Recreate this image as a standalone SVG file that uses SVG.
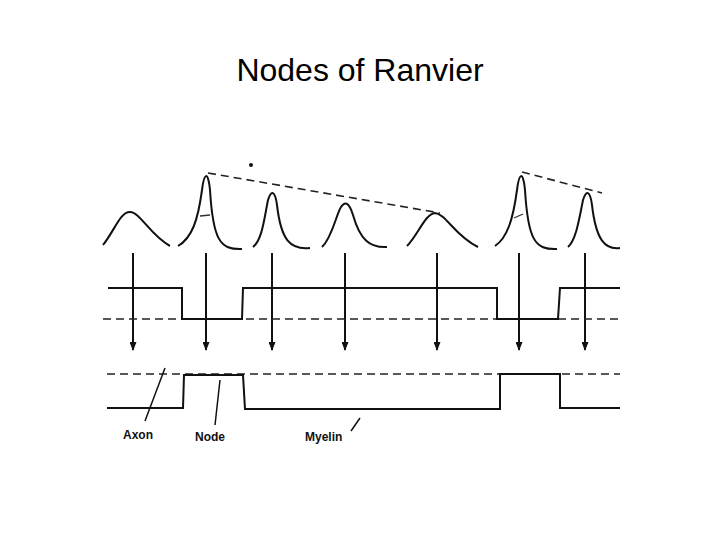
<svg xmlns="http://www.w3.org/2000/svg" width="720" height="540" viewBox="0 0 720 540">
<style>
.w{fill:none;stroke:#111;stroke-width:2}
.d{fill:none;stroke:#222;stroke-width:1.6;stroke-dasharray:8 5}
.a{stroke:#111;stroke-width:2;marker-end:url(#ah)}
.l{font-family:"Liberation Sans",Arial,sans-serif;font-weight:bold;font-size:12px;fill:#111}
</style>
<defs><marker id="ah" markerWidth="9" markerHeight="7" refX="8" refY="3.5" orient="auto" markerUnits="userSpaceOnUse"><path d="M0,0 L9,3.5 L0,7Z" fill="#111"/></marker></defs>
<rect width="720" height="540" fill="#fff"/>
<text x="360" y="81" text-anchor="middle" font-family="Liberation Sans,Arial,sans-serif" font-size="32" fill="#000">Nodes of Ranvier</text>
<g id="waves">
<path class="w" d="M103,245 C115,230 120,212 130,212 C140,212 150,235 170,246"/>
<path class="w" d="M178,246 C192,238 198,220 202,190 C204,173 208,170 210,190 C213,240 220,250 242,249"/>
<path class="w" d="M253,247 C262,240 264,220 268,200 C271,190 275,190 277,205 C281,240 290,250 310,248"/>
<path class="w" d="M322,247 C332,238 336,215 341,207 C345,201 349,202 353,215 C360,240 370,248 387,247"/>
<path class="w" d="M407,246 C418,235 425,214 435,213 C446,214 455,236 478,247"/>
<path class="w" d="M495,246 C507,238 513,220 517,190 C519,173 523,170 525,190 C528,240 535,250 557,249"/>
<path class="w" d="M568,247 C576,240 579,220 583,200 C586,190 590,190 592,205 C596,240 605,250 620,248"/>
<path d="M200,216 L210,215 M514,218 L523,214" stroke="#333" stroke-width="1.3"/>
<path class="d" d="M208,173 L440,213 M522,172 L602,193"/>
<circle cx="251" cy="165" r="2" fill="#111"/>
</g>
<g id="connectors">
<line class="a" x1="133" y1="253" x2="133" y2="350"/>
<line class="a" x1="206" y1="253" x2="206" y2="350"/>
<line class="a" x1="272" y1="253" x2="272" y2="350"/>
<line class="a" x1="345" y1="253" x2="345" y2="350"/>
<line class="a" x1="437" y1="253" x2="437" y2="350"/>
<line class="a" x1="519" y1="253" x2="519" y2="350"/>
<line class="a" x1="585" y1="253" x2="585" y2="350"/>
</g>
<g id="upper">
<path class="d" d="M103,319 L620,319"/>
<path class="w" d="M108,288 L182,288 L182,319 L242,319 L243,288 L497,288 L497,319 L558,319 L560,288 L620,288"/>
</g>
<g id="lower">
<path class="d" d="M107,374 L620,374"/>
<path class="w" d="M107,408 L183,408 L184,375 L243,375 L245,409 L500,409 L500,374 L560,374 L560,408 L620,408"/>
</g>
<g id="labels">
<path d="M145,421 L165,368 M215,425 L220,380 M351,431 L360,418" stroke="#111" stroke-width="1.5"/>
<text class="l" x="123" y="439">Axon</text>
<text class="l" x="195" y="441">Node</text>
<text class="l" x="305" y="441">Myelin</text>
</g>
</svg>
